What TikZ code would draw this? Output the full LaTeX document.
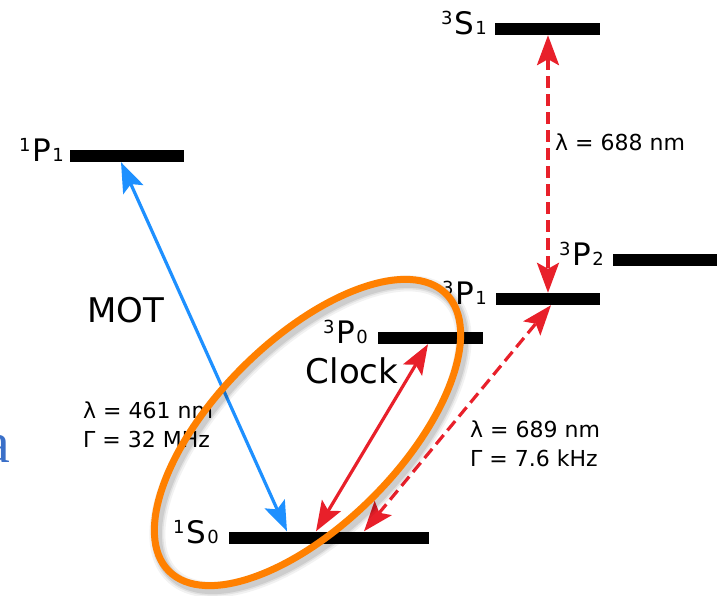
\documentclass[tikz,border=0pt]{standalone}
\usepackage{fontspec}
\setmainfont{DejaVu Sans}
\newfontfamily\serifa{Liberation Serif}
\usetikzlibrary{arrows.meta}
\definecolor{myred}{HTML}{E8202A}
\definecolor{myblue}{HTML}{1E90FF}
\definecolor{myorange}{HTML}{FF8000}
\definecolor{partblue}{HTML}{3A6FC8}
\newcommand\lvl[3]{\raisebox{10pt}{\fontsize{18}{18}\selectfont #1}\kern2pt#2\kern1pt{\fontsize{18}{18}\selectfont #3}}
\begin{document}
\begin{tikzpicture}[x=1pt,y=-1pt,
  >={Stealth[length=30pt,width=22pt,inset=6pt]},
  bar/.style={fill=black, inner sep=0pt, minimum height=12pt},
  lvllabel/.style={anchor=base east, inner sep=0pt, font=\fontsize{31}{31}\selectfont},
  big/.style={inner sep=0pt, font=\fontsize{34}{34}\selectfont},
  small/.style={inner sep=0pt, align=left, font=\fontsize{22}{29}\selectfont, anchor=north west},
  trans/.style={line width=3.2pt, <->},
  dashline/.style={dash pattern=on 12pt off 6pt}
]
\useasboundingbox (0,0) rectangle (724,596);

% levels
\node[bar, minimum width=105pt] (S1) at (547.5,29) {};
\node[bar, minimum width=114pt] (P1s) at (127,156) {};
\node[bar, minimum width=104pt] (P2) at (665,260) {};
\node[bar, minimum width=104pt] (P1t) at (548,299) {};
\node[bar, minimum width=105pt] (P0) at (430.5,338) {};
\node[bar, minimum width=200pt] (S0) at (329,537.5) {};

% level labels
\node[lvllabel] (lS1) at (487,35) {\lvl{3}{S}{1}};
\node[lvllabel] (lP1s) at (64,162) {\lvl{1}{P}{1}};
\node[lvllabel] (lP2) at (604,266) {\lvl{3}{P}{2}};
\node[lvllabel] (lP1t) at (487,305) {\lvl{3}{P}{1}};
\node[lvllabel] (lP0) at (368,344) {\lvl{3}{P}{0}};
\node[lvllabel] (lS0) at (219,543.5) {\lvl{1}{S}{0}};

% texts
\node[big] (mot) at (126,310) {MOT};
\node[big] (clock) at (352,371) {Clock};
\node[small, anchor=west] (t688) at (555,142) {λ = 688 nm};
\node[small] (t461) at (83,402) {λ = 461 nm\\Γ = 32 MHz};
\node[small] (t689) at (470,421) {λ = 689 nm\\Γ = 7.6 kHz};
\node[anchor=base east, inner sep=0pt, text=partblue, font=\serifa\fontsize{58}{58}\selectfont] (cut) at (10,463) {a};

% transitions
\draw[trans, myblue] ([xshift=-42pt]S0.north) -- ([xshift=-6pt]P1s.south);
\draw[trans, myred] ([xshift=-13pt]S0.north) -- ([xshift=-2.5pt]P0.south);
\draw[trans, myred, dashline] ([xshift=35pt]S0.north) -- ([xshift=3pt]P1t.south);
\draw[trans, myred, dashline] ([xshift=0.5pt]S1.south) -- (P1t.north);

% clock ellipse with shadow
\begin{scope}[shift={(3,4)}]
\foreach \w/\o in {16/0.05, 12/0.07, 9/0.09}
  \draw[black, opacity=\o, line width=\w pt, rotate around={45:(307.5,432.5)}] (307.5,432.5) ellipse [x radius=196pt, y radius=92pt];
\end{scope}
\draw[myorange, line width=7pt, rotate around={45:(307.5,432.5)}] (307.5,432.5) ellipse [x radius=196pt, y radius=92pt];
\end{tikzpicture}
\end{document}
